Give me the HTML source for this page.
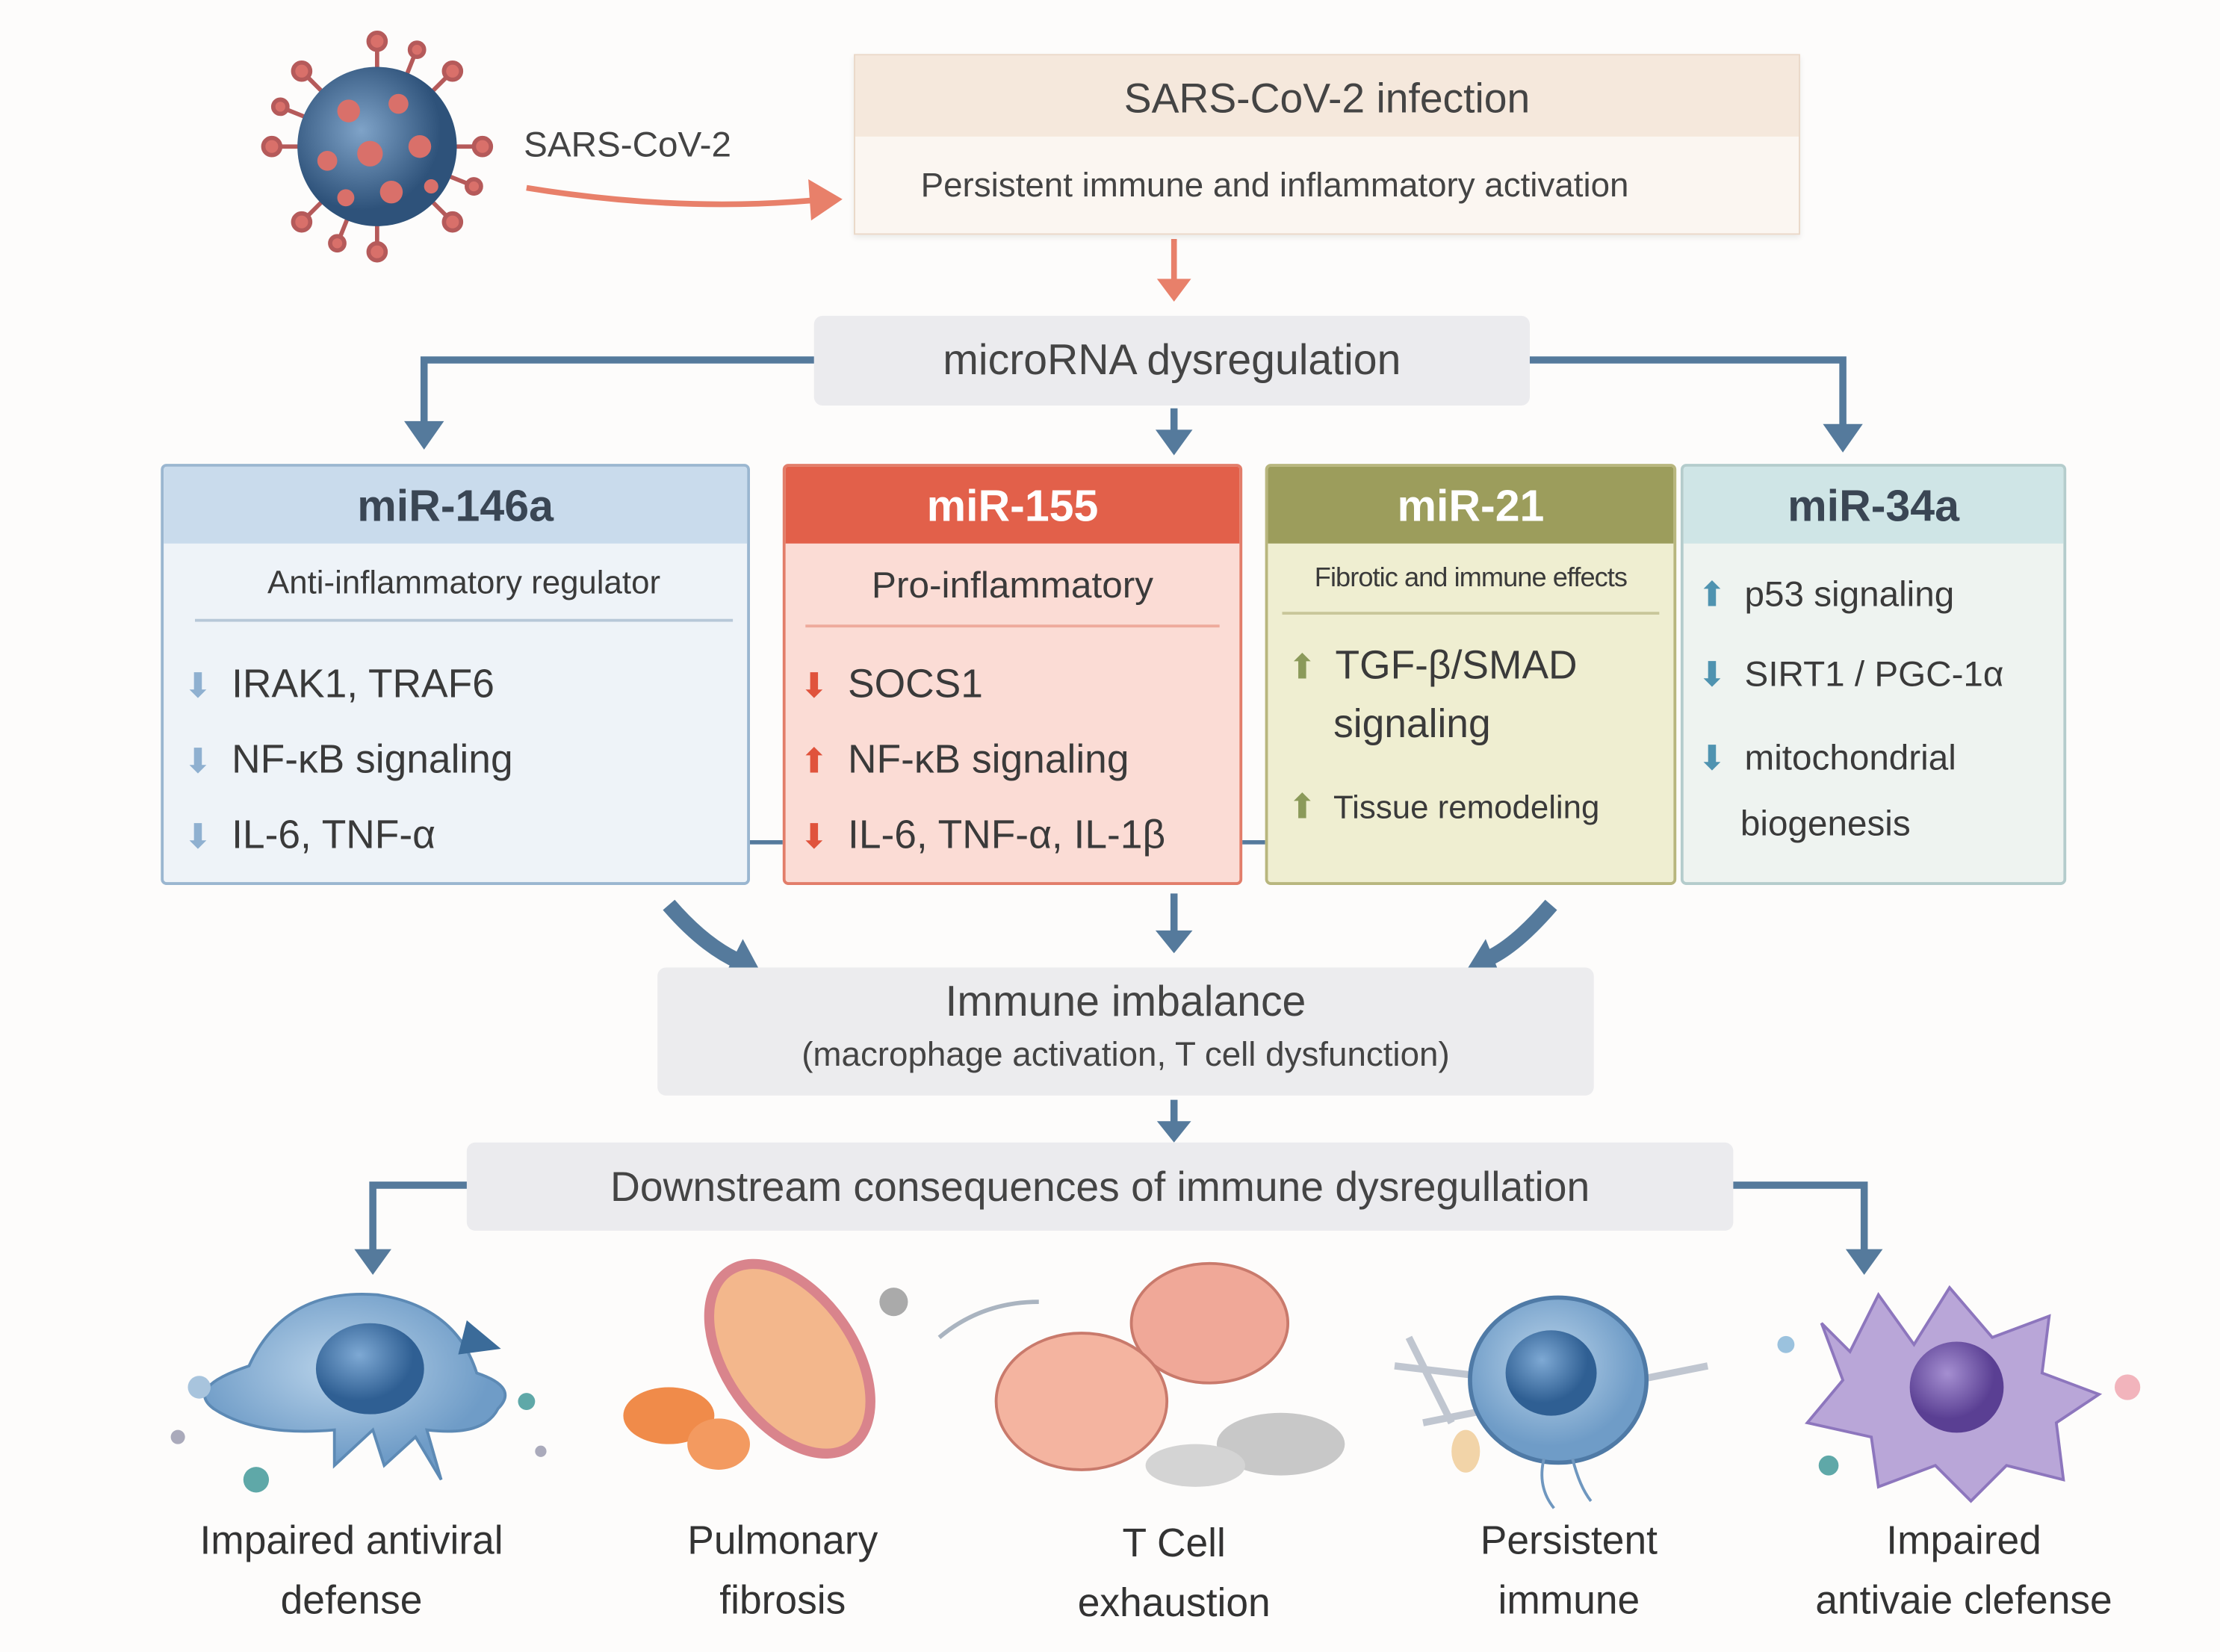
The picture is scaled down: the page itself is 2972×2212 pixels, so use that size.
<!DOCTYPE html>
<html><head><meta charset="utf-8"><style>
html,body{margin:0;padding:0;background:#fdfcfb;}
#wrap{width:2972px;height:2212px;overflow:hidden;position:relative;background:#fdfcfb;}
#c{position:absolute;left:0;top:0;width:1560px;height:1161px;transform:scale(1.9051);transform-origin:0 0;font-family:"Liberation Sans","DejaVu Sans",sans-serif;color:#3a3a3a;}
.abs{position:absolute;}
.card{position:absolute;top:326px;height:296px;border-radius:4px;box-sizing:border-box;overflow:hidden;}
.hd{height:54px;line-height:56px;text-align:center;font-size:31px;font-weight:bold;}
.sub{text-align:center;font-size:22px;margin:14px 14px 0;padding-bottom:12px;}
.it{font-size:28px;margin-left:14px;line-height:52px;white-space:nowrap;}
.ar{display:inline-block;width:26px;font-family:"DejaVu Sans",sans-serif;font-size:24px;}
.lbl{position:absolute;top:1062px;text-align:center;font-size:28px;line-height:42px;color:#333;}
</style></head><body><div id="wrap"><div id="c">
<svg class="abs" style="left:0;top:0" width="1560" height="1161">
<defs>
<radialGradient id="vg" cx="40%" cy="40%"><stop offset="0" stop-color="#7fa3c8"/><stop offset="1" stop-color="#2e527a"/></radialGradient>
<radialGradient id="cb" cx="45%" cy="40%"><stop offset="0" stop-color="#b9d3ea"/><stop offset="1" stop-color="#6f9cc7"/></radialGradient>
<radialGradient id="nb" cx="40%" cy="35%"><stop offset="0" stop-color="#7ea9d4"/><stop offset="1" stop-color="#2f5f93"/></radialGradient>
<radialGradient id="np" cx="40%" cy="35%"><stop offset="0" stop-color="#a58fd1"/><stop offset="1" stop-color="#5a3f93"/></radialGradient>
</defs>
<g transform="translate(265,103)">
<g stroke="#b55a5a" stroke-width="3" fill="#d9706a">
<line x1="0" y1="-55" x2="0" y2="-72"/><circle cx="0" cy="-74" r="6"/>
<line x1="0" y1="55" x2="0" y2="72"/><circle cx="0" cy="74" r="6"/>
<line x1="-55" y1="0" x2="-72" y2="0"/><circle cx="-74" cy="0" r="6"/>
<line x1="55" y1="0" x2="72" y2="0"/><circle cx="74" cy="0" r="6"/>
<line x1="39" y1="39" x2="51" y2="51"/><circle cx="53" cy="53" r="6"/>
<line x1="-39" y1="39" x2="-51" y2="51"/><circle cx="-53" cy="53" r="6"/>
<line x1="39" y1="-39" x2="51" y2="-51"/><circle cx="53" cy="-53" r="6"/>
<line x1="-39" y1="-39" x2="-51" y2="-51"/><circle cx="-53" cy="-53" r="6"/>
<line x1="21" y1="-51" x2="27" y2="-66"/><circle cx="28" cy="-68" r="5"/>
<line x1="-21" y1="51" x2="-27" y2="66"/><circle cx="-28" cy="68" r="5"/>
<line x1="51" y1="21" x2="66" y2="27"/><circle cx="68" cy="28" r="5"/>
<line x1="-51" y1="-21" x2="-66" y2="-27"/><circle cx="-68" cy="-28" r="5"/>
</g>
<circle r="56" fill="url(#vg)"/>
<g fill="#d9706a"><circle cx="-20" cy="-25" r="8"/><circle cx="15" cy="-30" r="7"/><circle cx="30" cy="0" r="8"/><circle cx="-5" cy="5" r="9"/><circle cx="-35" cy="10" r="7"/><circle cx="10" cy="32" r="8"/><circle cx="-22" cy="36" r="6"/><circle cx="38" cy="28" r="5"/></g>
</g>
<path d="M370 132 Q480 150 580 140" stroke="#e8806a" stroke-width="4" fill="none"/>
<polygon points="592,140 568,126 570,155" fill="#e8806a"/>
<line x1="825" y1="168" x2="825" y2="198" stroke="#e8806a" stroke-width="4"/>
<polygon points="813,196 837,196 825,212" fill="#e8806a"/>
<g stroke="#557a9c" stroke-width="5" fill="none">
<polyline points="574,253 298,253 298,298"/>
<polyline points="1074,253 1295,253 1295,300"/>
<line x1="825" y1="287" x2="825" y2="304"/>
<line x1="825" y1="628" x2="825" y2="656"/>
<line x1="825" y1="773" x2="825" y2="790"/>
<polyline points="330,833 262,833 262,880"/>
<polyline points="1216,833 1310,833 1310,880"/>
</g>
<g fill="#557a9c">
<polygon points="284,296 312,296 298,316"/>
<polygon points="1281,298 1309,298 1295,318"/>
<polygon points="812,302 838,302 825,320"/>
<polygon points="812,654 838,654 825,670"/>
<polygon points="813,788 837,788 825,803"/>
<polygon points="249,878 275,878 262,896"/>
<polygon points="1297,878 1323,878 1310,896"/>
</g>
<path d="M470 636 Q495 665 520 676" stroke="#557a9c" stroke-width="11" fill="none"/>
<polygon points="536,686 508,688 522,660" fill="#557a9c"/>
<path d="M1090 636 Q1065 665 1045 674" stroke="#557a9c" stroke-width="11" fill="none"/>
<polygon points="1028,686 1056,690 1044,660" fill="#557a9c"/>
<line x1="527" y1="592" x2="550" y2="592" stroke="#557a9c" stroke-width="3"/>
<line x1="873" y1="592" x2="889" y2="592" stroke="#557a9c" stroke-width="3"/>
<g>
<path d="M175 960 Q200 905 265 910 Q320 918 335 965 Q365 975 350 990 Q340 1010 300 1005 L310 1040 L292 1010 L270 1030 L262 1005 L235 1030 L235 1005 Q180 1010 150 990 Q130 975 175 960Z" fill="url(#cb)" stroke="#5d8ab5" stroke-width="2"/>
<ellipse cx="260" cy="962" rx="38" ry="32" fill="url(#nb)"/>
<polygon points="328,928 352,948 322,952" fill="#3b6b99"/>
<circle cx="140" cy="975" r="8" fill="#a8c4dd"/><circle cx="180" cy="1040" r="9" fill="#5fa8a8"/><circle cx="370" cy="985" r="6" fill="#5fa8a8"/><circle cx="125" cy="1010" r="5" fill="#aab"/><circle cx="380" cy="1020" r="4" fill="#aab"/>
</g>
<g>
<ellipse cx="555" cy="955" rx="45" ry="75" transform="rotate(-35 555 955)" fill="#f3b78c" stroke="#d9848c" stroke-width="7"/>
<ellipse cx="470" cy="995" rx="32" ry="20" fill="#f08b4a"/><ellipse cx="505" cy="1015" rx="22" ry="18" fill="#f39a60"/><circle cx="628" cy="915" r="10" fill="#aaa"/>
<path d="M660 940 Q690 915 730 915" stroke="#aab4c0" stroke-width="3" fill="none"/>
</g>
<g>
<ellipse cx="850" cy="930" rx="55" ry="42" fill="#f0a898" stroke="#c97a6c" stroke-width="2"/>
<ellipse cx="760" cy="985" rx="60" ry="48" fill="#f4b4a0" stroke="#c97a6c" stroke-width="2"/>
<ellipse cx="900" cy="1015" rx="45" ry="22" fill="#c8c8c8"/><ellipse cx="840" cy="1030" rx="35" ry="15" fill="#d4d4d4"/>
</g>
<g>
<path d="M980 960 L1150 980 M1000 1000 L1200 960 M990 940 L1020 1000" stroke="#c0c6d0" stroke-width="5"/>
<ellipse cx="1095" cy="970" rx="62" ry="58" fill="url(#cb)" stroke="#4f7aa6" stroke-width="3"/>
<ellipse cx="1090" cy="965" rx="32" ry="30" fill="url(#nb)"/>
<path d="M1085 1025 Q1080 1045 1092 1060 M1105 1025 Q1110 1045 1118 1055" stroke="#6f97bf" stroke-width="2" fill="none"/>
<ellipse cx="1030" cy="1020" rx="10" ry="15" fill="#f2d4a8"/>
</g>
<g>
<path d="M1280 930 L1300 950 L1320 910 L1345 945 L1370 905 L1400 940 L1440 925 L1435 965 L1475 980 L1445 1000 L1450 1040 L1410 1030 L1385 1055 L1360 1030 L1320 1045 L1315 1010 L1270 1000 L1295 970 Z" fill="#b9a6d8" stroke="#8d76bd" stroke-width="2"/>
<ellipse cx="1375" cy="975" rx="33" ry="32" fill="url(#np)"/>
<circle cx="1255" cy="945" r="6" fill="#9bc2de"/><circle cx="1495" cy="975" r="9" fill="#f2b4bc"/><circle cx="1285" cy="1030" r="7" fill="#5fa8a8"/>
</g>
</svg>
<div class="abs" style="left:600px;top:38px;width:665px;height:127px;background:#fbf6f1;border:1px solid #ead8c8;box-sizing:border-box;box-shadow:0 2px 4px rgba(0,0,0,.08)">
<div style="height:57px;background:#f5e8dc;text-align:center;font-size:29px;line-height:62px;color:#444">SARS-CoV-2 infection</div>
<div style="font-size:24px;line-height:70px;padding-left:46px;color:#444">Persistent immune and inflammatory activation</div>
</div>
<div class="abs" style="left:368px;top:88px;font-size:25px;color:#444">SARS-CoV-2</div>
<div class="abs" style="left:572px;top:222px;width:503px;height:63px;background:#ebebee;border-radius:6px;text-align:center;line-height:63px;font-size:30px;color:#444">microRNA dysregulation</div>
<div class="card" style="left:113px;width:414px;background:#eef3f8;border:2px solid #9ab6d0">
<div class="hd" style="background:#c9dbec;color:#3a4654">miR-146a</div>
<div class="sub" style="border-bottom:2px solid #b7c8d8;margin-left:22px;margin-right:10px;font-size:23px">Anti-inflammatory regulator</div>
<div style="margin-top:18px"><div class="it"><span class="ar" style="color:#8fb0d0">⬇</span> IRAK1, TRAF6</div><div class="it"><span class="ar" style="color:#8fb0d0">⬇</span> NF-κB signaling</div><div class="it"><span class="ar" style="color:#8fb0d0">⬇</span> IL-6, TNF-α</div></div>
</div>
<div class="card" style="left:550px;width:323px;background:#fbdcd5;border:2px solid #e27d6a">
<div class="hd" style="background:#e2604a;color:#fff">miR-155</div>
<div class="sub" style="border-bottom:2px solid #eeaa9c;font-size:26px">Pro-inflammatory</div>
<div style="margin-top:14px"><div class="it" style="margin-left:10px"><span class="ar" style="color:#e0533c">⬇</span> SOCS1</div><div class="it" style="margin-left:10px"><span class="ar" style="color:#e0533c">⬆</span> NF-κB signaling</div><div class="it" style="margin-left:10px"><span class="ar" style="color:#e0533c">⬇</span> IL-6, TNF-α, IL-1β</div></div>
</div>
<div class="card" style="left:889px;width:289px;background:#efeed1;border:2px solid #b8b67e">
<div class="hd" style="background:#9c9d5c;color:#fff">miR-21</div>
<div class="sub" style="border-bottom:2px solid #c8c69a;font-size:19px;margin-left:10px;margin-right:10px;letter-spacing:-0.5px">Fibrotic and immune effects</div>
<div style="margin-top:16px"><div class="it" style="line-height:40px"><span class="ar" style="color:#8b9a5a">⬆</span> TGF-β/SMAD<br><span style="margin-left:32px">signaling</span></div><div class="it" style="font-size:23px;margin-top:12px"><span class="ar" style="color:#8b9a5a">⬆</span> Tissue remodeling</div></div>
</div>
<div class="card" style="left:1181px;width:271px;background:#eef3f0;border:2px solid #b4cccc">
<div class="hd" style="background:#cfe5e6;color:#3a4654">miR-34a</div>
<div style="margin-top:10px"><div class="it" style="font-size:25px;margin-left:10px"><span class="ar" style="color:#4f93b0">⬆</span> p53 signaling</div><div class="it" style="font-size:25px;margin-left:10px;margin-top:4px"><span class="ar" style="color:#4f93b0">⬇</span> SIRT1 / PGC-1α</div><div class="it" style="font-size:25px;margin-left:10px;line-height:46px;margin-top:10px"><span class="ar" style="color:#4f93b0">⬇</span> mitochondrial<br><span style="margin-left:30px">biogenesis</span></div></div>
</div>
<div class="abs" style="left:462px;top:680px;width:658px;height:90px;background:#ececee;border-radius:6px;text-align:center;color:#444">
<div style="font-size:30px;margin-top:8px">Immune imbalance</div>
<div style="font-size:24px;margin-top:6px">(macrophage activation, T cell dysfunction)</div>
</div>
<div class="abs" style="left:328px;top:803px;width:890px;height:62px;background:#ebebee;border-radius:6px;text-align:center;line-height:64px;font-size:29px;color:#444">Downstream consequences of immune dysregullation</div>
<div class="lbl" style="left:97px;width:300px">Impaired antiviral<br>defense</div>
<div class="lbl" style="left:450px;width:200px">Pulmonary<br>fibrosis</div>
<div class="lbl" style="left:720px;width:210px;top:1064px">T Cell<br>exhaustion</div>
<div class="lbl" style="left:1000px;width:205px">Persistent<br>immune</div>
<div class="lbl" style="left:1240px;width:280px">Impaired<br>antivaie clefense</div>
</div></div></body></html>
